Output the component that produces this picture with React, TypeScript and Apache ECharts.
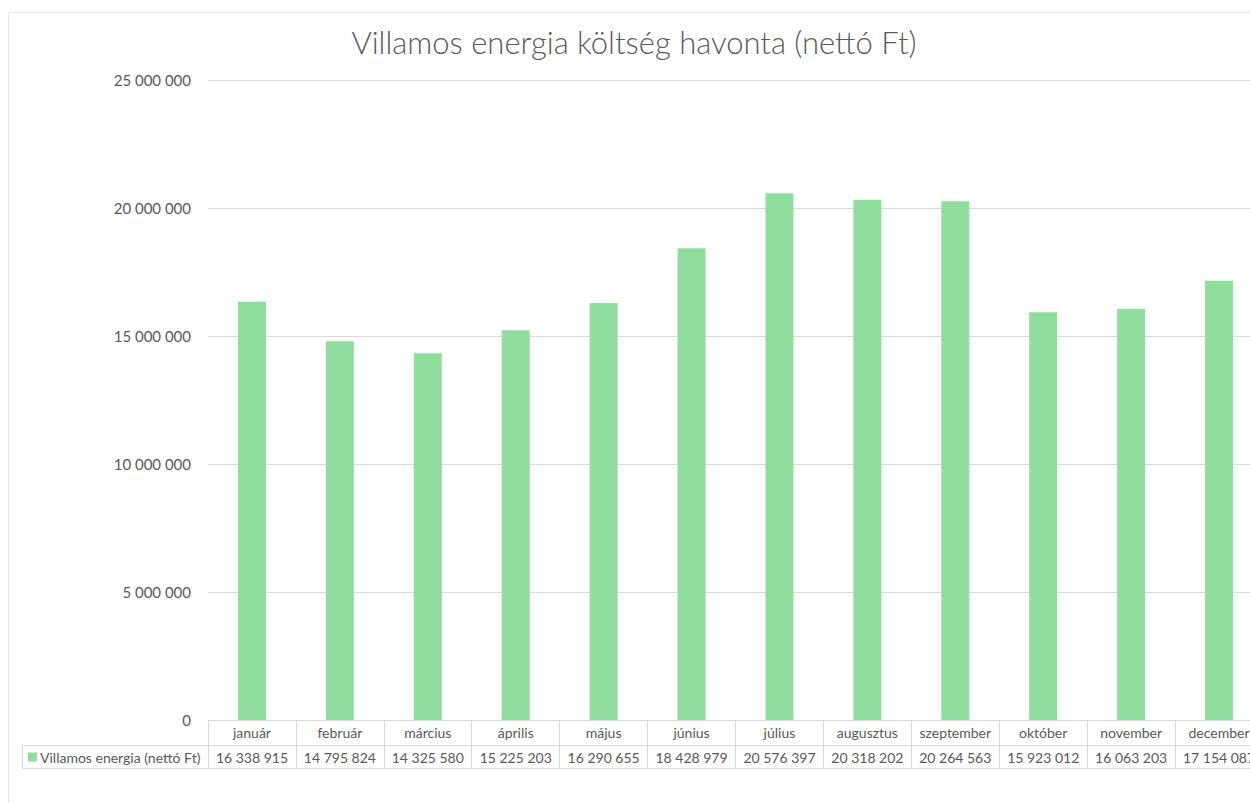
import React, { useEffect, useRef } from "react";
import * as echarts from "echarts";

const TITLE = "Villamos energia költség havonta (nettó Ft)";
const SERIES_NAME = "Villamos energia (nettó Ft)";
const MONTHS = ["január", "február", "március", "április", "május", "június", "július", "augusztus", "szeptember", "október", "november", "december"];
const VALUES = [16338915, 14795824, 14325580, 15225203, 16290655, 18428979, 20576397, 20318202, 20264563, 15923012, 16063203, 17154087];
const Y_MIN = 0;
const Y_MAX = 25000000;
const Y_STEP = 5000000;

const fmt = (v: number) => String(Math.round(v)).replace(/\B(?=(\d{3})+(?!\d))/g, " ");

const TXT = "#595959";
const LINE = "#d9d9d9";
const FONT = "Lato";

export default function App() {
  const ref = useRef<HTMLDivElement>(null);
  useEffect(() => {
    if (!ref.current) return;
    const chart = echarts.init(ref.current, undefined, { renderer: "svg" });
    chart.setOption({
      animation: false,
      backgroundColor: "#ffffff",
      textStyle: { fontFamily: FONT },
      legend: {
        data: [SERIES_NAME],
        left: 28,
        top: 750,
        padding: 0,
        itemWidth: 9,
        itemHeight: 9,
        icon: "rect",
        textStyle: { color: TXT, fontSize: 14, fontFamily: FONT, padding: [0, 0, 0, -2] },
      },
      grid: { left: 208, right: 17, top: 80, bottom: 83, containLabel: false },
      xAxis: [
        {
          type: "category",
          data: MONTHS,
          position: "bottom",
          axisLine: { show: true, lineStyle: { color: LINE, width: 1 } },
          axisTick: { show: true, length: 48, lineStyle: { color: LINE, width: 1 } },
          axisLabel: { color: TXT, fontSize: 14, fontFamily: FONT, margin: 5, interval: 0 },
        },
        {
          type: "category",
          data: MONTHS,
          position: "bottom",
          offset: 25,
          axisLine: { show: true, lineStyle: { color: LINE, width: 1 } },
          axisTick: { show: false },
          axisLabel: {
            color: TXT,
            fontSize: 14,
            fontFamily: FONT,
            margin: 5,
            interval: 0,
            formatter: (_v: string, i: number) => fmt(VALUES[i]),
          },
        },
        {
          type: "category",
          data: MONTHS,
          position: "bottom",
          offset: 48,
          axisLine: { show: true, lineStyle: { color: LINE, width: 1 } },
          axisTick: { show: false },
          axisLabel: { show: false },
        },
      ],
      yAxis: {
        type: "value",
        min: Y_MIN,
        max: Y_MAX,
        interval: Y_STEP,
        axisLine: { show: false },
        axisTick: { show: false },
        splitLine: { show: true, lineStyle: { color: LINE, width: 1 } },
        axisLabel: {
          color: TXT,
          fontSize: 15,
          fontFamily: FONT,
          margin: 17,
          formatter: (v: number) => fmt(v),
        },
      },
      series: [
        {
          name: SERIES_NAME,
          type: "bar",
          data: VALUES,
          xAxisIndex: 0,
          barWidth: 28,
          itemStyle: { color: "#8fde9d" },
        },
      ],
      graphic: [
        { type: "line", shape: { x1: 8.5, y1: 12, x2: 8.5, y2: 803 }, style: { stroke: "#e6e6e6", lineWidth: 1 } },
        { type: "line", shape: { x1: 8, y1: 12.5, x2: 1280, y2: 12.5 }, style: { stroke: "#e6e6e6", lineWidth: 1 } },
        { type: "line", shape: { x1: 22, y1: 745.5, x2: 208, y2: 745.5 }, style: { stroke: LINE, lineWidth: 1 } },
        { type: "line", shape: { x1: 22, y1: 768.5, x2: 208, y2: 768.5 }, style: { stroke: LINE, lineWidth: 1 } },
        { type: "line", shape: { x1: 22.5, y1: 745, x2: 22.5, y2: 768 }, style: { stroke: LINE, lineWidth: 1 } },
        {
          type: "text",
          x: 634,
          y: 42,
          style: {
            text: TITLE,
            fill: TXT,
            fontSize: 31,
            fontWeight: 300,
            fontFamily: FONT,
            textAlign: "center",
            textVerticalAlign: "middle",
          },
        },
      ],
    });
    return () => chart.dispose();
  }, []);
  return (
    <div style={{ position: "fixed", left: 0, top: 0, width: 1250, height: 803, overflow: "hidden" }}>
      <div ref={ref} style={{ width: 1280, height: 803 }} />
    </div>
  );
}
